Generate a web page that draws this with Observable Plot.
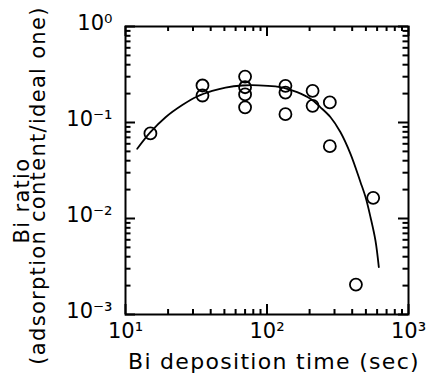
<!DOCTYPE html>
<html>
<head>
<meta charset="utf-8">
<script src="https://cdn.jsdelivr.net/npm/d3@7"></script>
<script src="https://cdn.jsdelivr.net/npm/@observablehq/plot@0.6"></script>
<style>
  html, body { margin: 0; padding: 0; background: #fff; }
  #chart svg { display: block; font-family: "DejaVu Sans", sans-serif; }
</style>
</head>
<body>
<div id="chart"></div>
<script>
// Measured points
const depTime  = [15, 35, 35, 70, 70, 70, 70, 135, 135, 135, 210, 210, 278, 278, 425, 563];
const biRatio  = [0.077, 0.243, 0.191, 0.301, 0.233, 0.196, 0.144, 0.241, 0.205, 0.122, 0.214, 0.149, 0.162, 0.0567, 0.00205, 0.0164];

// Fitted curve
const fitTime  = [12.1, 15.0, 19.2, 25.2, 32.1, 41.0, 50.9, 66.8, 87.5, 114.8, 131.5, 163.3, 202.8, 238.6, 281.3, 330.7, 389, 458, 497, 539, 584, 617];
const fitRatio = [0.0532, 0.0792, 0.1135, 0.152, 0.1866, 0.213, 0.231, 0.243, 0.244, 0.238, 0.230, 0.207, 0.1766, 0.144, 0.1135, 0.0792, 0.0472, 0.0239, 0.0167, 0.0103, 0.0059, 0.00311];

// Ticks and labels
const xMajor = [10, 100, 1000];
const xMajorLabels = ["10\u00B9", "10\u00B2", "10\u00B3"];
const yMajor = [1, 0.1, 0.01, 0.001];
const yMajorLabels = ["10\u2070", "10\u207B\u00B9", "10\u207B\u00B2", "10\u207B\u00B3"];
const mult = [2, 3, 4, 5, 6, 7, 8, 9];
const xMinor = [10, 100].flatMap(d => mult.map(m => d * m));
const yMinor = [0.001, 0.01, 0.1].flatMap(d => mult.map(m => d * m));

const xTitle = "Bi deposition time (sec)";
const yTitle1 = "Bi ratio";
const yTitle2 = "(adsorption content/ideal one)";

const points = depTime.map((t, i) => ({t, r: biRatio[i]}));
const fit = fitTime.map((t, i) => ({t, r: fitRatio[i]}));

const fmt = (vals, labels) => d => { const i = vals.findIndex(v => Math.abs(Math.log10(v) - Math.log10(d)) < 1e-6); return i >= 0 ? labels[i] : ""; };

// layout
const W = 429, H = 382, mL = 125, mR = 21, mT = 26, mB = 68;
const fw = W - mL - mR, fh = H - mT - mB;

// inward ticks on all four sides, as rules trimmed by pixel insets
const inTicks = [];
for (const [ticks, len] of [[xMajor, 10], [xMinor, 5]]) {
  inTicks.push(Plot.ruleX(ticks, {x: d => d, insetTop: fh - len, strokeWidth: 2, stroke: "#000"}));
  inTicks.push(Plot.ruleX(ticks, {x: d => d, insetBottom: fh - len, strokeWidth: 2, stroke: "#000"}));
}
for (const [ticks, len] of [[yMajor, 10], [yMinor, 5.5]]) {
  inTicks.push(Plot.ruleY(ticks, {y: d => d, insetRight: fw - len, strokeWidth: 2, stroke: "#000"}));
  inTicks.push(Plot.ruleY(ticks, {y: d => d, insetLeft: fw - len, strokeWidth: 2, stroke: "#000"}));
}

const chart = Plot.plot({
  width: W,
  height: H,
  marginLeft: mL,
  marginRight: mR,
  marginTop: mT,
  marginBottom: mB,
  style: {fontFamily: "DejaVu Sans, sans-serif", color: "#000", background: "#fff"},
  x: {type: "log", domain: [10, 1000]},
  y: {type: "log", domain: [0.001, 1]},
  marks: [
    Plot.axisX({anchor: "bottom", ticks: xMajor, tickSize: 0, tickPadding: 9, tickFormat: fmt(xMajor, xMajorLabels), label: null, fontSize: 21}),
    Plot.axisY({anchor: "left", ticks: yMajor, tickSize: 0, tickPadding: 13, tickFormat: fmt(yMajor, yMajorLabels), label: null, fontSize: 21, dy: -3}),
    Plot.frame({strokeWidth: 2}),
    ...inTicks,
    Plot.line(fit, {x: "t", y: "r", curve: "catmull-rom", strokeWidth: 1.8, stroke: "#000"}),
    Plot.dot(points, {x: "t", y: "r", r: 6, stroke: "#000", strokeWidth: 1.8, fill: "none"}),
    Plot.text([xTitle], {text: d => d, frameAnchor: "bottom", dx: 7, dy: 47, fontSize: 22, textAnchor: "middle", lineAnchor: "middle", className: "ttl"}),
    Plot.text([yTitle1], {text: d => d, frameAnchor: "left", dx: -103, dy: 30, rotate: -90, fontSize: 21, textAnchor: "middle", lineAnchor: "middle", className: "ttl"}),
    Plot.text([yTitle2], {text: d => d, frameAnchor: "left", dx: -87, dy: 15, rotate: -90, fontSize: 21, textAnchor: "middle", lineAnchor: "middle", className: "ttl"})
  ]
});
d3.select(chart).selectAll(".ttl text").attr("letter-spacing", 1.3);
document.getElementById("chart").appendChild(chart);
</script>
</body>
</html>
